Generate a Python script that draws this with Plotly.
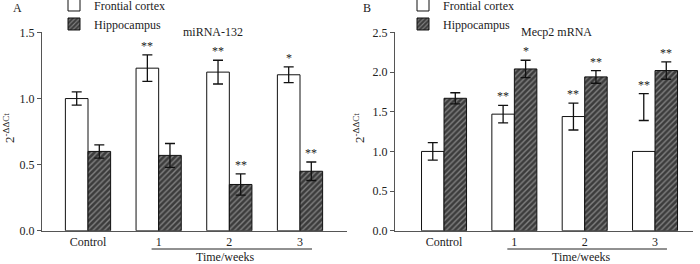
import plotly.graph_objects as go

groups = ["Control", "1", "2", "3"]

# Panel A: miRNA-132
A_frontal = [1.00, 1.23, 1.20, 1.18]
A_frontal_err = [0.05, 0.10, 0.09, 0.06]
A_hippo = [0.60, 0.57, 0.35, 0.45]
A_hippo_err = [0.05, 0.09, 0.08, 0.07]
A_frontal_sig = ["", "**", "**", "*"]
A_hippo_sig = ["", "", "**", "**"]

# Panel B: Mecp2 mRNA
B_frontal = [1.00, 1.47, 1.44, 1.00]
B_frontal_err_center = [1.00, 1.47, 1.44, 1.56]
B_frontal_err = [0.11, 0.11, 0.17, 0.17]
B_hippo = [1.67, 2.04, 1.94, 2.02]
B_hippo_err = [0.07, 0.11, 0.08, 0.11]
B_frontal_sig = ["", "**", "**", "**"]
B_hippo_sig = ["", "*", "**", "**"]

FONT = "Liberation Serif, 'Times New Roman', serif"
TXT = "#222"
W = 0.32
idx = list(range(len(groups)))
xf = [i - W / 2 for i in idx]
xh = [i + W / 2 for i in idx]

fig = go.Figure()

hatch = dict(shape="/", bgcolor="#3c3c3c", fgcolor="#c8c8c8", size=4, solidity=0.35)


def add_panel(n, fr, fr_err_c, fr_err, hi, hi_err, fsig, hsig, legend):
    xa = "x" if n == 1 else "x2"
    ya = "y" if n == 1 else "y2"
    fig.add_trace(go.Bar(x=xf, y=fr, width=W, name="Frontial cortex",
                         marker=dict(color="white", line=dict(color="#111", width=1)),
                         xaxis=xa, yaxis=ya, legend=legend))
    fig.add_trace(go.Bar(x=xh, y=hi, width=W, name="Hippocampus",
                         marker=dict(color="#3c3c3c", line=dict(color="#111", width=1), pattern=hatch),
                         xaxis=xa, yaxis=ya, legend=legend))
    for xs, ys, es in ((xf, fr_err_c, fr_err), (xh, hi, hi_err)):
        fig.add_trace(go.Scatter(x=xs, y=ys, mode="markers",
                                 marker=dict(size=1, color="rgba(0,0,0,0)"),
                                 error_y=dict(type="data", array=es, visible=True,
                                              color="#111", thickness=1.3, width=5),
                                 showlegend=False, hoverinfo="skip",
                                 xaxis=xa, yaxis=ya))
    for xs, ys, es, sig in ((xf, fr_err_c, fr_err, fsig), (xh, hi, hi_err, hsig)):
        for x, y, e, s in zip(xs, ys, es, sig):
            if s:
                fig.add_annotation(x=x, y=y + e, xref=xa, yref=ya, text=s,
                                   showarrow=False, xanchor="center", yanchor="bottom",
                                   font=dict(family=FONT, size=12, color=TXT))


add_panel(1, A_frontal, A_frontal, A_frontal_err, A_hippo, A_hippo_err,
          A_frontal_sig, A_hippo_sig, "legend")
add_panel(2, B_frontal, B_frontal_err_center, B_frontal_err, B_hippo, B_hippo_err,
          B_frontal_sig, B_hippo_sig, "legend2")

ydom = [0.126, 0.877]
axis_common = dict(showline=True, linecolor="#555", linewidth=1, showgrid=False,
                   zeroline=False, automargin=False,
                   tickfont=dict(family=FONT, size=12, color=TXT))

legend_common = dict(y=1.036, xanchor="left", yanchor="top", bgcolor="rgba(0,0,0,0)",
                     font=dict(family=FONT, size=12, color=TXT),
                     tracegroupgap=0, itemclick=False)

fig.update_layout(
    width=700, height=264, autosize=False,
    margin=dict(l=0, r=0, t=0, b=0, pad=0, autoexpand=False),
    plot_bgcolor="white", paper_bgcolor="white", barmode="overlay",
    font=dict(family=FONT, size=12, color=TXT),
    xaxis=dict(domain=[0.06, 0.4957], range=[-0.651, 3.665], tickvals=idx,
               ticktext=groups, ticks="", **axis_common),
    yaxis=dict(domain=ydom, range=[0, 1.5], tickvals=[0, 0.5, 1.0, 1.5],
               tickformat=".1f", ticks="outside", ticklen=4, tickcolor="#555",
               **axis_common),
    xaxis2=dict(domain=[0.5643, 0.99], range=[-0.697, 3.54], tickvals=idx,
                ticktext=groups, ticks="", anchor="y2", **axis_common),
    yaxis2=dict(domain=ydom, range=[0, 2.5], tickvals=[0, 0.5, 1.0, 1.5, 2.0, 2.5],
                tickformat=".1f", ticks="outside", ticklen=4, tickcolor="#555",
                anchor="x2", **axis_common),
    legend=dict(x=54 / 700, **legend_common),
    legend2=dict(x=403 / 700, **legend_common),
)


def note(text, x, y, xref="paper", size=12, angle=0):
    fig.add_annotation(x=x, y=y, xref=xref, yref="paper", text=text, textangle=angle,
                       showarrow=False, xanchor="center", yanchor="middle",
                       font=dict(family=FONT, size=size, color=TXT))


# Panel letters, titles, y-axis titles
for txt, x in (("A", 17), ("B", 367)):
    note(txt, x / 700, 1 - 8 / 264)
for txt, x in (("miRNA-132", 213), ("Mecp2 mRNA", 556)):
    note(txt, x / 700, 1 - 32 / 264)
for x in (9, 359):
    note("2<sup>-ΔΔCt</sup>", x / 700, 1 - 128 / 264, size=13, angle=-90)

# Time/weeks underline and label
for xr in ("x", "x2"):
    fig.add_shape(type="line", xref=xr, yref="paper", x0=0.9, x1=3.17,
                  y0=1 - 249 / 264, y1=1 - 249 / 264, line=dict(color="#222", width=1))
    note("Time/weeks", 1.95, 1 - 257 / 264, xref=xr)

fig.write_html("out.html", config={"displayModeBar": False},
               post_script="document.body.style.margin='0';")
